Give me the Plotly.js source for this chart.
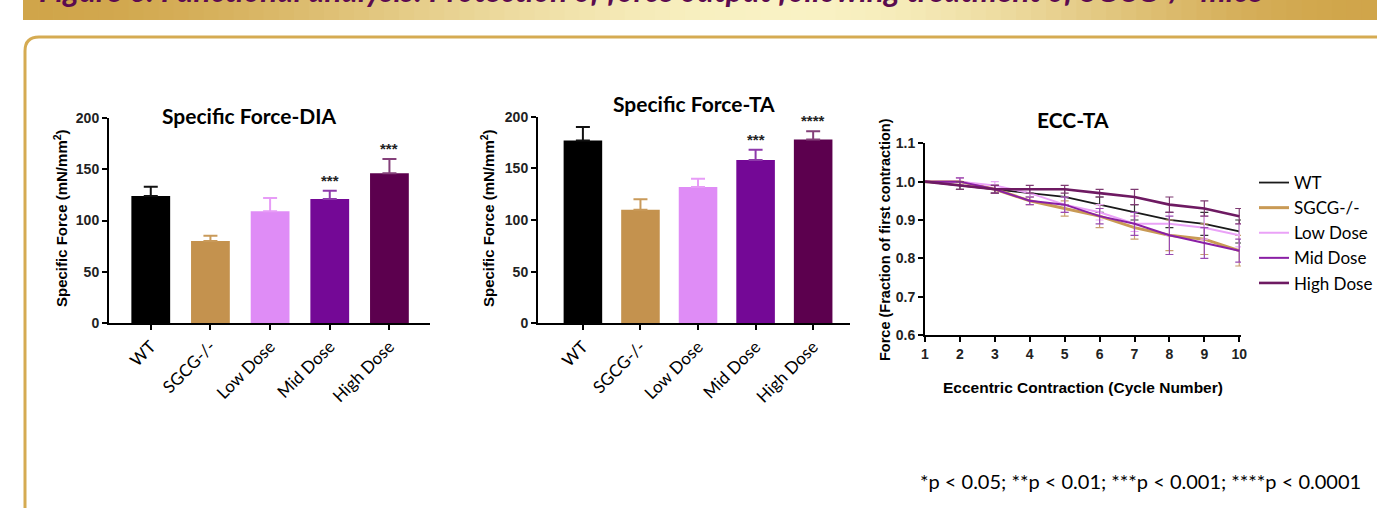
<!DOCTYPE html>
<html><head><meta charset="utf-8">
<script src="https://cdn.plot.ly/plotly-3.0.1.min.js"></script>
<style>html,body{margin:0;padding:0;background:#fff;overflow:hidden}</style>
</head><body><div id="chart" style="width:1377px;height:508px"></div>
<script>
// ---------- data ----------
const groups = ['WT', 'SGCG-/-', 'Low Dose', 'Mid Dose', 'High Dose'];
const diaMean = [124, 80, 109, 121, 146];
const diaSem = [9, 5, 13, 8, 14];
const diaStars = ['', '', '', '***', '***'];
const taMean = [177, 110, 132, 158, 178];
const taSem = [13, 10, 8, 10, 8];
const taStars = ['', '', '', '***', '****'];
const cycles = [1, 2, 3, 4, 5, 6, 7, 8, 9, 10];
const eccWT = [1.00, 0.99, 0.98, 0.97, 0.96, 0.94, 0.92, 0.90, 0.89, 0.87];
const eccWTErr = [0, 0.01, 0.01, 0.01, 0.02, 0.02, 0.02, 0.02, 0.03, 0.03];
const eccSGCG = [1.00, 1.00, 0.98, 0.95, 0.93, 0.91, 0.88, 0.86, 0.85, 0.82];
const eccSGCGErr = [0, 0.01, 0.01, 0.01, 0.02, 0.03, 0.03, 0.04, 0.04, 0.04];
const eccLow = [1.00, 1.00, 0.99, 0.97, 0.94, 0.92, 0.89, 0.89, 0.88, 0.86];
const eccLowErr = [0, 0.01, 0.01, 0.01, 0.02, 0.02, 0.02, 0.03, 0.03, 0.03];
const eccMid = [1.00, 1.00, 0.98, 0.95, 0.94, 0.91, 0.89, 0.86, 0.84, 0.82];
const eccMidErr = [0, 0.01, 0.01, 0.01, 0.02, 0.02, 0.03, 0.05, 0.04, 0.03];
const eccHigh = [1.00, 0.99, 0.98, 0.98, 0.98, 0.97, 0.96, 0.94, 0.93, 0.91];
const eccHighErr = [0, 0.01, 0.01, 0.01, 0.01, 0.01, 0.02, 0.02, 0.02, 0.02];
const eccSeries = [eccWT, eccSGCG, eccLow, eccMid, eccHigh];
const eccErrors = [eccWTErr, eccSGCGErr, eccLowErr, eccMidErr, eccHighErr];
const headerText = 'Figure 6: Functional analysis: Protection of force output following treatment of SGCG-/- mice';
const footnote = '*p < 0.05; **p < 0.01; ***p < 0.001; ****p < 0.0001';

// ---------- styles ----------
const W = 1377, H = 508;
const px = x => x / W;
const py = y => 1 - y / H;
const barColors = ['#000000', '#c4924e', '#df8cf6', '#740896', '#5c004e'];
const barErrColors = ['#111111', '#c99a5a', '#e79cf7', '#8e3aab', '#84407a'];
const lineColors = ['#1a1a1a', '#c99a55', '#eaa2f7', '#8a1fa5', '#6e1a62'];
const lineErrColors = ['#333333', '#c9a070', '#e9a6f5', '#9a4ab2', '#7e3a72'];
const lineWidths = [1.8, 3, 2, 2, 2.6];
const tickFont = {family: 'Liberation Sans, Arial, sans-serif', size: 14, color: '#222', weight: 'bold'};
const catFont = {family: 'Lato, sans-serif', size: 17, color: '#000'};

const traces = [];
function addBars(means, sems, xa, ya, width) {
  for (let i = 0; i < groups.length; i++) {
    traces.push({
      type: 'bar', x: [groups[i]], y: [means[i]], xaxis: xa, yaxis: ya, width: width,
      marker: {color: barColors[i], line: {width: 0}}, showlegend: false, hoverinfo: 'skip',
      error_y: {type: 'data', symmetric: false, array: [sems[i]], arrayminus: [0],
                color: barErrColors[i], thickness: 2, width: 7}
    });
  }
}
addBars(diaMean, diaSem, 'x', 'y', 0.65);
addBars(taMean, taSem, 'x2', 'y2', 0.67);
for (let i = 0; i < groups.length; i++) {
  traces.push({
    type: 'scatter', mode: 'lines', x: cycles, y: eccSeries[i], xaxis: 'x3', yaxis: 'y3',
    name: groups[i], line: {color: lineColors[i], width: lineWidths[i]}, cliponaxis: false,
    error_y: {type: 'data', array: eccErrors[i], color: lineErrColors[i], thickness: 1.2, width: 4}
  });
}

// ---------- annotations ----------
const ann = [];
function starAnn(means, sems, stars, xr, yr) {
  for (let i = 0; i < groups.length; i++) {
    if (!stars[i]) continue;
    ann.push({xref: xr, yref: yr, x: groups[i], y: means[i] + sems[i], text: stars[i],
      showarrow: false, xanchor: 'center', yanchor: 'bottom', yshift: 0,
      font: {family: 'Liberation Sans, Arial, sans-serif', size: 15, color: '#222', weight: 'bold'}});
  }
}
starAnn(diaMean, diaSem, diaStars, 'x', 'y');
starAnn(taMean, taSem, taStars, 'x2', 'y2');
const titleFont = {family: 'Lato, sans-serif', size: 21, color: '#000', weight: 'bold'};
const axTitleFont = {family: 'Liberation Sans, Arial, sans-serif', size: 15, color: '#000', weight: 'bold'};
function pann(x, y, text, font, extra) {
  ann.push(Object.assign({xref: 'paper', yref: 'paper', x: px(x), y: py(y), text: text, showarrow: false,
    xanchor: 'center', yanchor: 'middle', font: font}, extra || {}));
}
pann(249, 115, 'Specific Force-DIA', titleFont);
pann(694, 104, 'Specific Force-TA', titleFont);
pann(1073, 119, 'ECC-TA', titleFont);
pann(60, 218, 'Specific Force (mN/mm<sup>2</sup>)', axTitleFont, {textangle: -90});
pann(487, 218, 'Specific Force (mN/mm<sup>2</sup>)', axTitleFont, {textangle: -90});
pann(885, 240, 'Force (Fraction of first contraction)', {family: 'Liberation Sans, Arial, sans-serif', size: 14.5, color: '#000', weight: 'bold'}, {textangle: -90});
pann(1083, 387, 'Eccentric Contraction (Cycle Number)', {family: 'Liberation Sans, Arial, sans-serif', size: 15.5, color: '#000', weight: 'bold'});
pann(1140, 481, footnote, {family: 'Lato, sans-serif', size: 20, color: '#000'});
pann(37, -10, headerText, {family: 'Lato, sans-serif', size: 31.5, color: '#5b0b4f', weight: 'bold', style: 'italic'}, {xanchor: 'left'});

// ---------- shapes: header gradient + frame ----------
const shapes = [];
const edge = [208, 165, 74], mid = [249, 242, 196];
const x0 = 23, x1 = 1377, xc = 790, N = 90;
for (let k = 0; k < N; k++) {
  const a = x0 + (x1 - x0) * k / N, b = x0 + (x1 - x0) * (k + 1) / N;
  const c = (a + b) / 2;
  let t = c < xc ? (c - x0) / (xc - x0) : (x1 - c) / (x1 - xc);
  t = t * t * (3 - 2 * t);
  const col = edge.map((e, j) => Math.round(e + (mid[j] - e) * t));
  shapes.push({type: 'rect', xref: 'paper', yref: 'paper', x0: px(a), x1: px(b + 0.8), y0: py(20), y1: py(-2),
    fillcolor: 'rgb(' + col.join(',') + ')', line: {width: 0}, layer: 'below'});
}
const r = 14, L = 25, T = 37;
const path = 'M ' + px(L) + ',' + py(540) + ' L ' + px(L) + ',' + py(T + r) +
  ' Q ' + px(L) + ',' + py(T) + ' ' + px(L + r) + ',' + py(T) + ' L ' + px(1420) + ',' + py(T);
shapes.push({type: 'path', xref: 'paper', yref: 'paper', path: path, line: {color: '#d5ab52', width: 3}, layer: 'below'});

// ---------- axes ----------
function catX(dom, range) {
  return {domain: dom, type: 'category', range: range, showgrid: false, zeroline: false,
    showline: true, linecolor: '#000', linewidth: 2, ticks: 'outside', ticklen: 5, tickwidth: 2, tickcolor: '#000',
    tickangle: -45, tickfont: catFont, fixedrange: true};
}
function valY(dom, range, dtick, fmt) {
  return {domain: dom, range: range, dtick: dtick, tickformat: fmt, showgrid: false, zeroline: false,
    showline: true, linecolor: '#000', linewidth: 2, ticks: 'outside', ticklen: 5, tickwidth: 2, tickcolor: '#000',
    tickfont: tickFont, fixedrange: true};
}
const layout = {
  width: W, height: H, margin: {l: 0, r: 0, t: 0, b: 0, autoexpand: false},
  paper_bgcolor: '#ffffff', plot_bgcolor: 'rgba(0,0,0,0)', barmode: 'overlay',
  xaxis: catX([px(109), px(430)], [-0.7, 4.68]),
  yaxis: Object.assign(valY([py(323), py(118)], [0, 200], 50, 'd'), {anchor: 'x'}),
  xaxis2: Object.assign(catX([px(538), px(850)], [-0.78, 4.64]), {anchor: 'y2'}),
  yaxis2: Object.assign(valY([py(323.3), py(116.7)], [0, 200], 50, 'd'), {anchor: 'x2'}),
  xaxis3: {domain: [px(925), px(1241)], range: [1, 10.05], anchor: 'y3', tickmode: 'array', tickvals: cycles,
    showgrid: false, zeroline: false, showline: true, linecolor: '#000', linewidth: 2, ticks: 'outside',
    ticklen: 5, tickwidth: 2, tickcolor: '#000', tickfont: tickFont, fixedrange: true},
  yaxis3: Object.assign(valY([py(335), py(143.3)], [0.6, 1.1], 0.1, '.1f'), {anchor: 'x3'}),
  showlegend: true,
  legend: {x: px(1254), y: py(165), xanchor: 'left', yanchor: 'top', bgcolor: 'rgba(0,0,0,0)',
    font: {family: 'Lato, sans-serif', size: 17, color: '#000'}, tracegroupgap: 0, itemwidth: 30},
  annotations: ann, shapes: shapes
};
Plotly.newPlot('chart', traces, layout, {displayModeBar: false, staticPlot: true});
</script></body></html>
